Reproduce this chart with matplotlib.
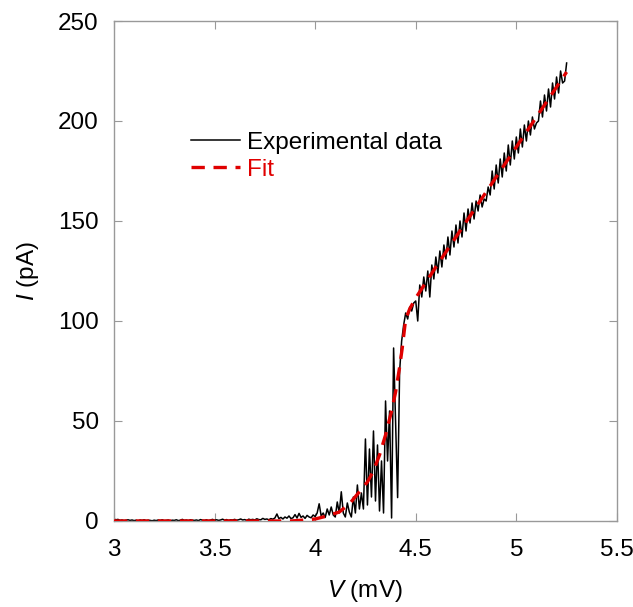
import numpy as np
import matplotlib
matplotlib.use("Agg")
import matplotlib.pyplot as plt

plt.rcParams['font.family'] = ['Liberation Sans', 'DejaVu Sans']
plt.rcParams['mathtext.fontset'] = 'custom'
plt.rcParams['mathtext.it'] = 'Liberation Sans:italic'
plt.rcParams['mathtext.rm'] = 'Liberation Sans'

# Measured current, sampled every 0.01 mV from 3.00 to 5.25 mV
v_data = np.arange(300, 526) / 100.0
i_data = [
    # 3.00 - 3.99
    1.0, 0.6, 0.8, 0.3, 0.5, 0.2, 0.4, 0.6, 0.3, 0.5,
    0.2, 0.4, 0.1, 0.5, 0.3, 0.6, 0.2, 0.4, 0.3, 0.1,
    0.4, 0.2, 0.5, 0.3, 0.6, 0.2, 0.3, 0.5, 0.1, 0.4,
    0.3, 0.6, 0.2, 0.4, 0.8, 0.3, 0.5, 0.2, 0.6, 0.4,
    0.3, 0.5, 0.2, 0.7, 0.4, 0.3, 0.6, 0.2, 0.5, 0.8,
    0.4, 0.6, 0.3, 0.5, 0.9, 0.4, 0.7, 0.3, 0.6, 0.5,
    0.8, 0.4, 0.6, 1.0, 0.5, 0.7, 0.3, 0.9, 0.6, 0.8,
    0.5, 1.1, 0.7, 0.6, 1.3, 0.8, 1.0, 0.6, 1.2, 0.9,
    1.5, 3.5, 1.2, 1.8, 1.0, 2.0, 1.4, 2.5, 1.2, 1.6,
    3.2, 1.5, 3.8, 1.8, 2.5, 1.3, 2.8, 2.0, 1.6, 3.0,
    # 4.00 - 4.49
    2.2, 4.0, 8.6, 2.5, 4.0, 1.8, 6.0, 3.0, 7.0, 3.0,
    2.0, 9.5, 4.0, 14.6, 4.0, 2.0, 9.0, 4.5, 2.0, 12.0,
    4.0, 18.0, 6.0, 14.0, 6.0, 41.0, 8.0, 36.0, 12.0, 45.0,
    10.0, 38.0, 5.0, 30.0, 4.0, 60.0, 30.0, 55.0, 1.5, 86.5,
    50.0, 11.7, 75.0, 90.0, 98.0, 104.0, 101.0, 107.0, 105.0, 109.0,
    # 4.50 - 5.25
    110, 100, 118, 112, 122, 115, 125, 112, 128, 121,
    132, 124, 135, 127, 138, 131, 142, 133, 145, 137,
    148, 139, 150, 142, 154, 145, 156, 149, 159, 151,
    160, 155, 163, 157, 161, 160, 167, 163, 175, 166,
    178, 169, 181, 172, 184, 175, 188, 178, 190, 181,
    192, 184, 196, 187, 198, 190, 200, 193, 202, 196,
    199, 200, 210, 202, 213, 205, 216, 207, 219, 211,
    222, 214, 225, 219, 220, 229,
]

# Fit curve
v_fit = [3.0, 3.88, 3.95, 4.0, 4.06, 4.12, 4.17, 4.22, 4.26, 4.29, 4.32,
         4.35, 4.38, 4.40, 4.42, 4.433, 4.45, 4.47, 4.5, 4.6, 4.8, 5.0, 5.25]
i_fit = [0, 0, 0.5, 1, 2.5, 4.5, 8.5, 14.6, 19.5, 25, 33,
         43, 55, 64.5, 77, 86.5, 101, 106, 111.5, 127, 157, 187, 224.5]

x_ticks = [3, 3.5, 4, 4.5, 5, 5.5]
y_ticks = [0, 50, 100, 150, 200, 250]

fig = plt.figure(figsize=(6.33, 6.07), dpi=100)
ax = fig.add_axes([0.180, 0.1417, 0.7946, 0.8237])

ax.plot(v_data, i_data, color='black', lw=1.1, label='Experimental data', zorder=2)
ax.plot(v_fit, i_fit, color='#e00000', lw=2.4, dashes=(4, 2.6),
        label='Fit', zorder=3)

ax.set_xlim(3, 5.5)
ax.set_ylim(0, 250)
ax.set_xticks(x_ticks)
ax.set_xticklabels(['%g' % t for t in x_ticks])
ax.set_yticks(y_ticks)
ax.tick_params(direction='in', length=6, width=0.8, color='#999999',
               top=True, right=True, labelsize=17.5)
ax.tick_params(axis='x', pad=13)
ax.tick_params(axis='y', pad=11)
for s in ax.spines.values():
    s.set_color('#999999')
    s.set_linewidth(1.0)

ax.set_xlabel(r'$\it{V}$ (mV)', fontsize=17.5, labelpad=12)
ax.set_ylabel(r'$\it{I}$ (pA)', fontsize=17.5, labelpad=12)

leg = ax.legend(loc='upper left', bbox_to_anchor=(0.134, 0.798), frameon=False,
                fontsize=17.5, handlelength=2.0, handletextpad=0.29,
                labelspacing=0.2, borderaxespad=0)
for txt, line in zip(leg.get_texts(), leg.get_lines()):
    txt.set_color(line.get_color())

fig.savefig('out.png', dpi=100)
